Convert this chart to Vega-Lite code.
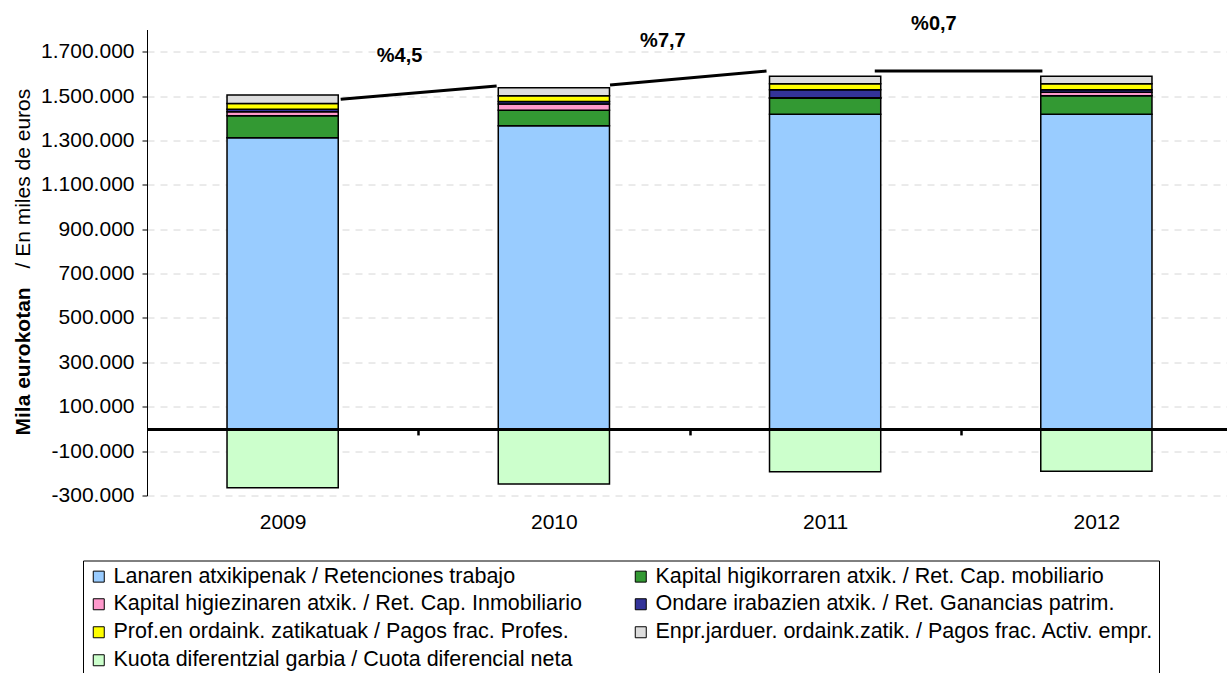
{
  "$schema": "https://vega.github.io/schema/vega-lite/v6.json",
  "width": 1080,
  "height": 466,
  "autosize": {"type": "none"},
  "padding": {"left": 147, "top": 29.5, "right": 0, "bottom": 177.5},
  "background": "white",
  "config": {
    "font": "Liberation Sans",
    "locale": {"number": {"decimal": ",", "thousands": ".", "grouping": [3], "currency": ["", " €"], "minus": "-"}},
    "view": {"stroke": null},
    "axis": {"labelColor": "black", "titleColor": "black", "labelFont": "Liberation Sans", "titleFont": "Liberation Sans"},
    "legend": {"labelFont": "Liberation Sans"}
  },
  "layer": [
    {
      "data": {"values": [
        {"year": "2009", "serie": "Lanaren atxikipenak / Retenciones trabajo", "value": 1311700, "ord": 1},
        {"year": "2009", "serie": "Kapital higikorraren atxik. / Ret. Cap. mobiliario", "value": 99100, "ord": 2},
        {"year": "2009", "serie": "Kapital higiezinaren atxik. / Ret. Cap. Inmobiliario", "value": 18900, "ord": 3},
        {"year": "2009", "serie": "Ondare irabazien atxik. / Ret. Ganancias patrim.", "value": 10400, "ord": 4},
        {"year": "2009", "serie": "Prof.en ordaink. zatikatuak / Pagos frac. Profes.", "value": 26100, "ord": 5},
        {"year": "2009", "serie": "Enpr.jarduer. ordaink.zatik. / Pagos frac. Activ. empr.", "value": 38300, "ord": 6},
        {"year": "2009", "serie": "Kuota diferentzial garbia / Cuota diferencial neta", "value": -265000, "ord": 7},
        {"year": "2010", "serie": "Lanaren atxikipenak / Retenciones trabajo", "value": 1365800, "ord": 1},
        {"year": "2010", "serie": "Kapital higikorraren atxik. / Ret. Cap. mobiliario", "value": 70300, "ord": 2},
        {"year": "2010", "serie": "Kapital higiezinaren atxik. / Ret. Cap. Inmobiliario", "value": 27900, "ord": 3},
        {"year": "2010", "serie": "Ondare irabazien atxik. / Ret. Ganancias patrim.", "value": 11700, "ord": 4},
        {"year": "2010", "serie": "Prof.en ordaink. zatikatuak / Pagos frac. Profes.", "value": 25700, "ord": 5},
        {"year": "2010", "serie": "Enpr.jarduer. ordaink.zatik. / Pagos frac. Activ. empr.", "value": 36000, "ord": 6},
        {"year": "2010", "serie": "Kuota diferentzial garbia / Cuota diferencial neta", "value": -248300, "ord": 7},
        {"year": "2011", "serie": "Lanaren atxikipenak / Retenciones trabajo", "value": 1418100, "ord": 1},
        {"year": "2011", "serie": "Kapital higikorraren atxik. / Ret. Cap. mobiliario", "value": 72100, "ord": 2},
        {"year": "2011", "serie": "Kapital higiezinaren atxik. / Ret. Cap. Inmobiliario", "value": 2000, "ord": 3},
        {"year": "2011", "serie": "Ondare irabazien atxik. / Ret. Ganancias patrim.", "value": 36500, "ord": 4},
        {"year": "2011", "serie": "Prof.en ordaink. zatikatuak / Pagos frac. Profes.", "value": 27000, "ord": 5},
        {"year": "2011", "serie": "Enpr.jarduer. ordaink.zatik. / Pagos frac. Activ. empr.", "value": 33300, "ord": 6},
        {"year": "2011", "serie": "Kuota diferentzial garbia / Cuota diferencial neta", "value": -192900, "ord": 7},
        {"year": "2012", "serie": "Lanaren atxikipenak / Retenciones trabajo", "value": 1418100, "ord": 1},
        {"year": "2012", "serie": "Kapital higikorraren atxik. / Ret. Cap. mobiliario", "value": 82900, "ord": 2},
        {"year": "2012", "serie": "Kapital higiezinaren atxik. / Ret. Cap. Inmobiliario", "value": 15800, "ord": 3},
        {"year": "2012", "serie": "Ondare irabazien atxik. / Ret. Ganancias patrim.", "value": 11700, "ord": 4},
        {"year": "2012", "serie": "Prof.en ordaink. zatikatuak / Pagos frac. Profes.", "value": 27000, "ord": 5},
        {"year": "2012", "serie": "Enpr.jarduer. ordaink.zatik. / Pagos frac. Activ. empr.", "value": 33300, "ord": 6},
        {"year": "2012", "serie": "Kuota diferentzial garbia / Cuota diferencial neta", "value": -191100, "ord": 7}
      ]},
      "mark": {"type": "bar", "stroke": "black", "strokeWidth": 1.5},
      "encoding": {
        "x": {
          "field": "year", "type": "nominal",
          "scale": {"paddingInner": 0.59, "paddingOuter": 0.295, "range": [0, 1085]},
          "axis": {
            "title": null, "orient": "bottom", "offset": -66.571, "zindex": 1,
            "labelAngle": 0, "labelFontSize": 21, "labelPadding": 77,
            "domain": true, "domainColor": "black", "domainWidth": 3,
            "ticks": true, "tickOffset": 135.625, "labelOffset": -135.625,
            "tickColor": "black", "tickWidth": 2.5, "tickSize": 6,
            "grid": false
          }
        },
        "y": {
          "field": "value", "type": "quantitative", "stack": "zero",
          "scale": {"domain": [-300000, 1800000], "nice": false, "zero": false},
          "axis": {
            "values": [-300000, -100000, 100000, 300000, 500000, 700000, 900000, 1100000, 1300000, 1500000, 1700000],
            "format": ",.0f", "labelFontSize": 21, "labelPadding": 8,
            "tickSize": 5, "tickColor": "black", "domainColor": "black", "domainWidth": 1,
            "grid": true, "gridDash": [7, 6], "gridColor": "#d6d6d6", "gridWidth": 1,
            "title": "Mila eurokotan", "titleFontWeight": "bold", "titleFontSize": 21,
            "titleAngle": -90, "titleAlign": "left", "titleBaseline": "alphabetic",
            "titleX": -118, "titleY": 405.5
          }
        },
        "color": {
          "field": "serie", "type": "nominal",
          "scale": {
            "domain": [
              "Lanaren atxikipenak / Retenciones trabajo",
              "Kapital higikorraren atxik. / Ret. Cap. mobiliario",
              "Kapital higiezinaren atxik. / Ret. Cap. Inmobiliario",
              "Ondare irabazien atxik. / Ret. Ganancias patrim.",
              "Prof.en ordaink. zatikatuak / Pagos frac. Profes.",
              "Enpr.jarduer. ordaink.zatik. / Pagos frac. Activ. empr.",
              "Kuota diferentzial garbia / Cuota diferencial neta"
            ],
            "range": ["#99CCFF", "#339933", "#FF99CC", "#333399", "#FFFF00", "#DDDDDD", "#CCFFCC"]
          },
          "legend": {
            "orient": "none", "legendX": -64, "legendY": 531, "columns": 2, "direction": "horizontal", "title": null,
            "symbolType": "square", "symbolSize": 121, "symbolStrokeColor": "black", "symbolStrokeWidth": 1,
            "labelFontSize": 21.5, "labelColor": "black", "labelLimit": 700, "labelOffset": 4,
            "rowPadding": 5, "columnPadding": 48, "padding": 5,
            "strokeColor": "black", "fillColor": "white"
          }
        },
        "order": {"field": "ord", "type": "quantitative"}
      }
    },
    {
      "data": {"values": [
        {"x1": 0.714, "x2": 1.289, "y1": 1485200, "y2": 1545100},
        {"x1": 1.707, "x2": 2.284, "y1": 1549600, "y2": 1612700},
        {"x1": 2.683, "x2": 3.301, "y1": 1612700, "y2": 1612700}
      ]},
      "mark": {"type": "rule", "strokeWidth": 3, "color": "black"},
      "encoding": {
        "x": {"field": "x1", "type": "quantitative", "scale": {"domain": [0, 4], "range": [0, 1085], "nice": false, "zero": false}, "axis": null},
        "x2": {"field": "x2"},
        "y": {
          "field": "y1", "type": "quantitative",
          "scale": {"domain": [-300000, 1800000], "nice": false, "zero": false},
          "axis": {
            "orient": "left", "labels": false, "ticks": false, "domain": false, "grid": false,
            "title": "/ En miles de euros", "titleFontWeight": "normal", "titleFontSize": 21,
            "titleAngle": -90, "titleAlign": "left", "titleBaseline": "alphabetic",
            "titleX": -118, "titleY": 238.5
          }
        },
        "y2": {"field": "y2"}
      }
    },
    {
      "data": {"values": [
        {"x": 0.931, "y": 1680300, "label": "%4,5"},
        {"x": 1.902, "y": 1750100, "label": "%7,7"},
        {"x": 2.901, "y": 1824500, "label": "%0,7"}
      ]},
      "mark": {"type": "text", "fontWeight": "bold", "fontSize": 20, "align": "center", "baseline": "middle", "color": "black"},
      "encoding": {
        "x": {"field": "x", "type": "quantitative", "scale": {"domain": [0, 4], "range": [0, 1085], "nice": false, "zero": false}, "axis": null},
        "y": {"field": "y", "type": "quantitative", "scale": {"domain": [-300000, 1800000], "nice": false, "zero": false}, "axis": null},
        "text": {"field": "label"}
      }
    }
  ],
  "resolve": {"scale": {"x": "independent"}, "axis": {"x": "independent", "y": "independent"}}
}
